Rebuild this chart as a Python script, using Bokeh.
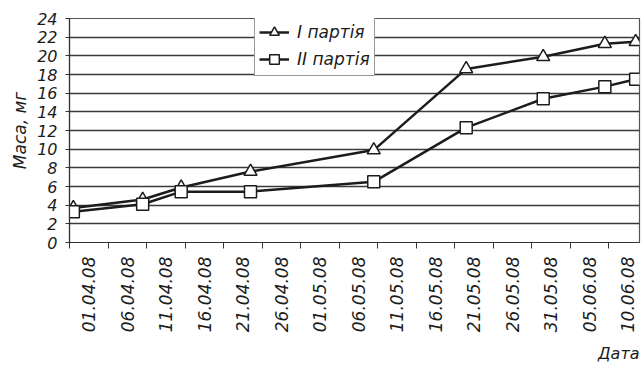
import pandas as pd
from bokeh.plotting import figure
from bokeh.models import FixedTicker, Legend, LegendItem, Title, Range1d, ColumnDataSource
from bokeh.embed import file_html
from bokeh.resources import INLINE

# ---- data ----
dates = ["01.04.08", "10.04.08", "15.04.08", "24.04.08", "10.05.08",
         "22.05.08", "01.06.08", "09.06.08", "13.06.08"]
batch1 = [3.7, 4.6, 5.9, 7.6, 9.9, 18.6, 19.9, 21.3, 21.5]
batch2 = [3.3, 4.1, 5.45, 5.45, 6.5, 12.3, 15.4, 16.7, 17.5]
tick_labels = ["01.04.08", "06.04.08", "11.04.08", "16.04.08", "21.04.08",
               "26.04.08", "01.05.08", "06.05.08", "11.05.08", "16.05.08",
               "21.05.08", "26.05.08", "31.05.08", "05.06.08", "10.06.08"]
y_ticks = [0, 2, 4, 6, 8, 10, 12, 14, 16, 18, 20, 22, 24]
series_names = ["I партія", "II партія"]

start = pd.to_datetime(dates[0], format="%d.%m.%y")
day = [(pd.to_datetime(d, format="%d.%m.%y") - start).days + 0.5 for d in dates]
tick_days = [(pd.to_datetime(t, format="%d.%m.%y") - start).days for t in tick_labels]
label_pos = [t + 2.5 for t in tick_days]
end_day = (pd.to_datetime(dates[-1], format="%d.%m.%y") - start).days + 1

src = ColumnDataSource(dict(x=day, y1=batch1, y2=batch2))

FONT = "DejaVu Sans"
INK = "#1c1c1c"

p = figure(width=644, height=369, x_range=Range1d(0, end_day), y_range=Range1d(0, 24),
           output_backend="svg", toolbar_location=None,
           min_border_left=69, min_border_right=5, min_border_top=18, min_border_bottom=127)
p.background_fill_color = "white"
p.border_fill_color = "white"
p.outline_line_color = "#555555"
p.outline_line_width = 1.2

# x axis: visible ticks every 5 days (minor), labels between them (major)
p.xaxis.ticker = FixedTicker(ticks=label_pos, minor_ticks=tick_days)
p.xaxis.major_label_overrides = {lp: t for lp, t in zip(label_pos, tick_labels)}
p.xaxis.major_label_orientation = 3.14159265 / 2
p.xaxis.major_tick_out = 0
p.xaxis.major_tick_in = 0
p.xaxis.minor_tick_out = 6
p.xaxis.minor_tick_in = 0
p.xaxis.minor_tick_line_color = "#333333"
p.xaxis.axis_line_color = "#333333"
p.xaxis.axis_line_width = 1.2
p.xaxis.major_label_text_font = FONT
p.xaxis.major_label_text_font_style = "italic"
p.xaxis.major_label_text_font_size = "17px"
p.xaxis.major_label_text_color = INK
p.xaxis.major_label_standoff = 8
p.xgrid.visible = False

# y axis
p.yaxis.ticker = FixedTicker(ticks=y_ticks)
p.yaxis.minor_tick_line_color = None
p.yaxis.major_tick_out = 4
p.yaxis.major_tick_in = 0
p.yaxis.major_tick_line_color = "#333333"
p.yaxis.axis_line_color = "#333333"
p.yaxis.axis_line_width = 1.2
p.yaxis.major_label_text_font = FONT
p.yaxis.major_label_text_font_style = "italic"
p.yaxis.major_label_text_font_size = "16px"
p.yaxis.major_label_text_color = INK
p.yaxis.major_label_standoff = 8
p.yaxis.axis_label = "Маса, мг"
p.yaxis.axis_label_text_font = FONT
p.yaxis.axis_label_text_font_style = "italic"
p.yaxis.axis_label_text_font_size = "17px"
p.yaxis.axis_label_text_color = INK
p.yaxis.axis_label_standoff = 4
p.ygrid.grid_line_color = "#3a3a3a"
p.ygrid.grid_line_width = 1.3

l1 = p.line("x", "y1", source=src, line_color=INK, line_width=2.5)
m1 = p.scatter("x", "y1", source=src, marker="triangle", size=13,
               fill_color="white", line_color=INK, line_width=1.5)
l2 = p.line("x", "y2", source=src, line_color=INK, line_width=2.5)
m2 = p.scatter("x", "y2", source=src, marker="square", size=12,
               fill_color="white", line_color=INK, line_width=1.5)

legend = Legend(items=[LegendItem(label=series_names[0], renderers=[l1, m1]),
                       LegendItem(label=series_names[1], renderers=[l2, m2])],
                location=(185, 166))
legend.label_text_font = FONT
legend.label_text_font_style = "italic"
legend.label_text_font_size = "17px"
legend.label_text_color = INK
legend.border_line_color = "#333333"
legend.border_line_width = 1.2
legend.background_fill_alpha = 1.0
legend.padding = 4
legend.spacing = 3
legend.label_height = 24
legend.glyph_height = 24
legend.glyph_width = 30
legend.label_standoff = 8
legend.margin = 0
p.add_layout(legend, "center")

xt = Title(text="Дата", align="right", text_font=FONT, text_font_style="italic",
           text_font_size="16px", text_color=INK, standoff=12)
p.add_layout(xt, "below")

open("out.html", "w").write(file_html(p, INLINE))
